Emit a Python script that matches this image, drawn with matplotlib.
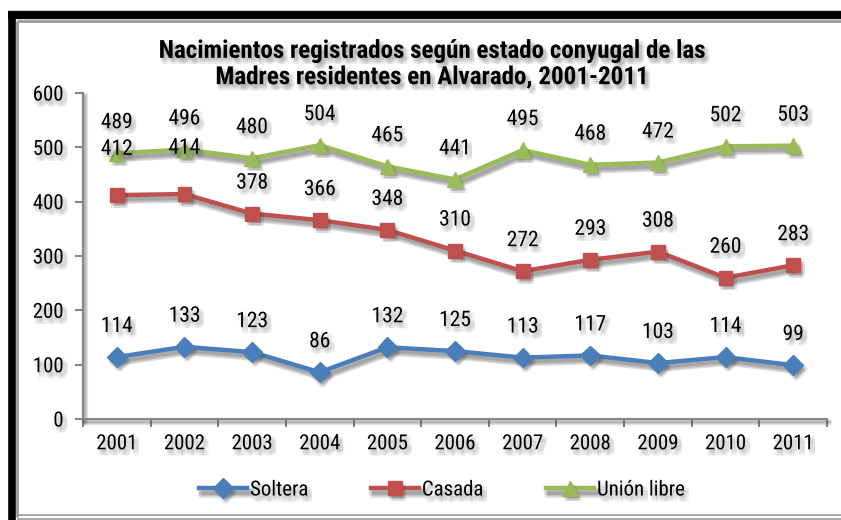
import numpy as np
import matplotlib
matplotlib.use('Agg')
import matplotlib.pyplot as plt
import matplotlib.patheffects as pe
from matplotlib.lines import Line2D
from matplotlib.transforms import Affine2D

years = ['2001', '2002', '2003', '2004', '2005', '2006', '2007', '2008', '2009', '2010', '2011']
soltera = [114, 133, 123, 86, 132, 125, 113, 117, 103, 114, 99]
casada = [412, 414, 378, 366, 348, 310, 272, 293, 308, 260, 283]
union_libre = [489, 496, 480, 504, 465, 441, 495, 468, 472, 502, 503]

plt.rcParams['font.family'] = ['Roboto Condensed', 'DejaVu Sans']


class SoftShadow(pe.AbstractPathEffect):
    # blurred-looking drop shadow: a few faint offset copies
    def __init__(self, dx=3, dy=-4, spread=2.0, alpha=0.07, color=(0.3, 0.3, 0.3)):
        super().__init__()
        self.dx, self.dy, self.spread, self.alpha, self.color = dx, dy, spread, alpha, color

    def draw_path(self, renderer, gc, tpath, affine, rgbFace=None):
        s = self.spread
        for ox in (-s, 0, s):
            for oy in (-s, 0, s):
                gc0 = renderer.new_gc()
                gc0.copy_properties(gc)
                gc0.set_foreground(self.color)
                gc0.set_alpha(self.alpha)
                face = self.color if rgbFace is not None else None
                if face is None:
                    gc0.set_linewidth(gc.get_linewidth() + 1.5)
                else:
                    gc0.set_linewidth(0)
                renderer.draw_path(gc0, tpath,
                                   affine + Affine2D().translate(self.dx + ox, self.dy + oy), face)
                gc0.restore()


txt_fx = [SoftShadow(), pe.Normal()]
line_fx = [SoftShadow(dx=3, dy=-4, spread=1.5, alpha=0.07), pe.Normal()]

W, H = 841, 520
fig = plt.figure(figsize=(W / 100, H / 100), dpi=100)
ax = fig.add_axes([83 / W, 1 - 419 / H, (827 - 83) / W, (419 - 93) / H])

x = np.arange(len(years))
series = [
    ('Soltera', soltera, '#4A7EBB', 'D', 10),
    ('Casada', casada, '#C0504D', 's', 10),
    ('Unión libre', union_libre, '#9BBB59', '^', 11),
]
for name, vals, col, mk, ms in series:
    ax.plot(x, vals, color=col, lw=3.2, marker=mk, ms=ms, label=name,
            path_effects=line_fx)

# data labels
for name, vals, col, mk, ms in series:
    for i, v in enumerate(vals):
        off = 22
        if name == 'Casada' and i < 2:
            off = 33
        ax.annotate(str(v), (x[i], v), xytext=(0, off), textcoords='offset points',
                    ha='center', va='center', fontsize=15.5, path_effects=txt_fx)

ax.set_xlim(-0.5, len(years) - 0.5)
ax.set_ylim(0, 600)
ax.set_yticks(range(0, 601, 100))
ax.set_xticks(np.arange(-0.5, len(years), 1))
ax.set_xticklabels([])
ax.set_xticks(x, minor=True)
ax.set_xticklabels(years, minor=True, fontsize=15)
ax.tick_params(axis='x', which='minor', length=0, pad=11)
ax.tick_params(axis='x', which='major', length=6, color='#868686', width=1.5)
ax.tick_params(axis='y', length=6, color='#868686', width=1.5, labelsize=15, pad=8)
for lab in ax.get_xticklabels(minor=True) + ax.get_yticklabels():
    lab.set_path_effects(txt_fx)
for s in ['top', 'right']:
    ax.spines[s].set_visible(False)
for s in ['left', 'bottom']:
    ax.spines[s].set_color('#868686')
    ax.spines[s].set_linewidth(1.5)
    ax.spines[s].set_path_effects([SoftShadow(dx=2, dy=-3, spread=1, alpha=0.05), pe.Normal()])

fig.text(432 / W, 1 - 64 / H,
         'Nacimientos registrados según estado conyugal de las\nMadres residentes en Alvarado, 2001-2011',
         ha='center', va='center', fontsize=18, fontweight='bold', linespacing=1.12,
         path_effects=txt_fx)

leg = fig.legend(loc='center', bbox_to_anchor=(442 / W, 1 - 490 / H), ncol=3, frameon=False,
                 fontsize=15, handlelength=2.3, columnspacing=3.0, handletextpad=0.15)
for t in leg.get_texts():
    t.set_path_effects(txt_fx)
for h in leg.legend_handles:
    h.set_path_effects(line_fx)


# frame
def fl(x0, y0, x1, y1, c, lw):
    fig.add_artist(Line2D([x0 / W, x1 / W], [1 - y0 / H, 1 - y1 / H], color=c, lw=lw,
                          transform=fig.transFigure, solid_capstyle='butt'))


fl(8, 15, W + 5, 15, 'black', 6)
fl(11.5, 11, 11.5, H + 5, 'black', 5.5)
fl(17, 21, W + 5, 21, '#9a9a9a', 2)
fl(17, 21, 17, 517, '#9a9a9a', 2)
fl(17, 515, W + 5, 515, '#9a9a9a', 1.2)
fl(17, 518.5, W + 5, 518.5, '#9a9a9a', 1.2)

fig.savefig('out.png', dpi=100)
